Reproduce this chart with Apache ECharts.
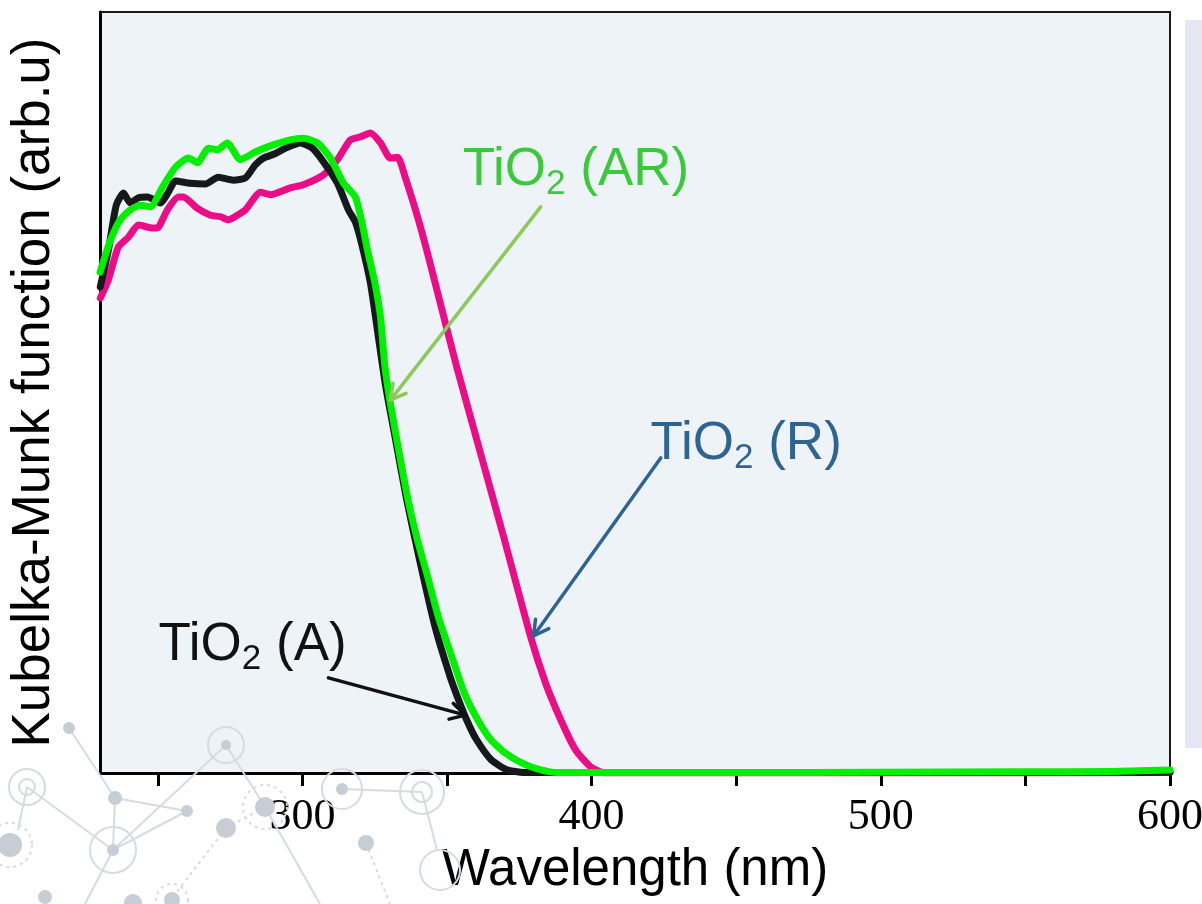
<!DOCTYPE html>
<html>
<head>
<meta charset="utf-8">
<script src="https://cdn.jsdelivr.net/npm/echarts@6/dist/echarts.min.js"></script>
<style>
  html, body { margin: 0; padding: 0; background: #ffffff; }
  #chart { width: 1202px; height: 904px; }
</style>
</head>
<body>
<div id="chart"></div>
<script>
// TiO2 (A) - black
const aWave = [230.1, 232.9, 235.6, 238.1, 240.5, 243.3, 246.4, 250.9, 253.6, 256.1, 261.2, 266.4, 270.9, 276.1, 280.3, 283.7, 286.5, 290.7, 294.1, 299.3, 303.5, 307.3, 312.1, 315.9, 318.3, 320.5, 323.5, 326, 328.7, 332.2, 336, 340.8, 346, 351.2, 354, 357, 360, 365.1, 370.2, 375.4, 380, 400, 450, 500, 550, 600];
const aKm = [63.9, 68.7, 74.6, 76.2, 74.9, 75.6, 75.7, 74.9, 76.3, 77.8, 77.5, 77.4, 78.3, 77.9, 78.2, 79.9, 80.8, 81.4, 82.1, 82.8, 82.1, 80.3, 77.5, 74.0, 72.4, 69.5, 64.4, 58, 51, 43.8, 36, 27.5, 19, 12.5, 9.6, 6.8, 4.5, 1.8, 0.5, 0.1, 0.05, 0.05, 0.05, 0.05, 0.05, 0.1];

// TiO2 (AR) - green
const arWave = [230, 233.6, 237.0, 240.5, 243.9, 247.4, 251.6, 256.1, 260.6, 263.7, 267.5, 270.6, 274.0, 278.5, 283.7, 289.6, 295.8, 300.3, 305.2, 309.7, 314.2, 318.3, 320.5, 322.5, 325, 327, 328.5, 330.4, 333.5, 336.3, 339.5, 343.3, 347, 351.2, 356, 360.6, 365.1, 370.2, 376.5, 382.4, 388.2, 400, 450, 500, 550, 580, 600];
const arKm = [65.8, 70.0, 72.7, 74.0, 74.6, 74.4, 77.0, 79.6, 80.8, 80.2, 82.1, 81.9, 82.8, 80.6, 81.6, 82.5, 83.2, 83.4, 82.8, 80.8, 77.5, 75.7, 72.5, 68.7, 64.5, 59.9, 53.5, 48.6, 42, 36.3, 31, 25.8, 20.5, 15.8, 10.5, 7.0, 4.4, 2.6, 1.2, 0.4, 0.05, 0.05, 0.05, 0.1, 0.15, 0.2, 0.4];

// TiO2 (R) - pink
const rWave = [230.1, 232.9, 236.3, 239.8, 243.3, 248.4, 250.2, 253.3, 257.1, 258.8, 263.7, 268.2, 271.6, 274.4, 277.5, 280.3, 285.5, 288.9, 295.8, 300.3, 307.3, 312.1, 316.6, 320.1, 323.5, 327.0, 330.4, 332.9, 335.6, 340.1, 343.6, 348.5, 353.6, 361.6, 369.6, 378.9, 384.1, 389.3, 394.5, 399.7, 404.8, 450, 500, 550, 600];
const rKm = [62.4, 64.8, 69.1, 70.4, 72.0, 71.6, 71.7, 74.0, 75.7, 75.7, 74.2, 73.3, 73.1, 72.7, 73.3, 74.0, 76.3, 76.0, 76.9, 77.3, 78.6, 80.6, 83.2, 83.6, 84.1, 82.8, 80.8, 80.9, 78.2, 72.7, 67.8, 60.5, 53.0, 42.0, 31.0, 17.9, 11.8, 7.0, 3.0, 0.8, 0, 0, 0, 0, 0.1];

const tickValues = [250, 300, 350, 400, 450, 500, 550, 600];
const labelValues = [300, 400, 500, 600];

// annotations in data coordinates: text top-left, arrow tail, arrow tip
const notes = [
  { name: 'AR', color: '#3cc83c', arrow: '#8cc85a', text: [355.4, 83.2], tail: [382.4, 74.4], tip: [330.4, 49.0] },
  { name: 'R', color: '#2e6491', arrow: '#2e6491', text: [420.4, 47.2], tail: [423.9, 41.4], tip: [379.9, 18.0] },
  { name: 'A', color: '#111111', arrow: '#111111', text: [250.2, 20.8], tail: [309.0, 12.5], tip: [356.4, 7.6] }
];

const toPairs = (xs, ys) => xs.map((x, i) => [x, ys[i]]);

const chart = echarts.init(document.getElementById('chart'));

const lineSeries = (name, xs, ys, color) => ({
  name: name,
  type: 'line',
  data: toPairs(xs, ys),
  showSymbol: false,
  smooth: 0.2,
  lineStyle: { color: color, width: 7, cap: 'round', join: 'round' },
  animation: false
});

chart.setOption({
  animation: false,
  grid: {
    left: 100, right: 32, top: 12, bottom: 131,
    outerBoundsMode: 'none',
    containLabel: false,
    show: true,
    backgroundColor: '#eef3f8',
    borderColor: '#1a1a1a',
    borderWidth: 2
  },
  xAxis: {
    type: 'value',
    min: 230,
    max: 600,
    name: 'Wavelength (nm)',
    nameLocation: 'middle',
    nameGap: 72,
    nameTextStyle: { fontFamily: 'Liberation Sans', fontSize: 51, color: '#000' },
    axisLine: { show: true, onZero: false, lineStyle: { color: '#000', width: 3 } },
    axisTick: { show: true, customValues: tickValues, length: 13, lineStyle: { color: '#000', width: 3 } },
    axisLabel: { customValues: labelValues, fontFamily: 'Liberation Serif', fontSize: 44, color: '#000', margin: 22 },
    splitLine: { show: false }
  },
  yAxis: {
    type: 'value',
    min: 0,
    max: 100,
    name: 'Kubelka-Munk function (arb.u)',
    nameLocation: 'middle',
    nameGap: 39,
    nameTextStyle: { fontFamily: 'Liberation Sans', fontSize: 53, color: '#000' },
    axisLine: { show: true, onZero: false, lineStyle: { color: '#000', width: 3 } },
    axisTick: { show: false },
    axisLabel: { show: false },
    splitLine: { show: false }
  },
  series: [
    lineSeries('TiO2 (R)', rWave, rKm, '#ec0c88'),
    lineSeries('TiO2 (A)', aWave, aKm, '#15191c'),
    lineSeries('TiO2 (AR)', arWave, arKm, '#00f000')
  ]
});

// background network decoration and right-hand panel
const deco = [];
const grey = '#c6cdd4';
const faint = '#d6dbe0';
const ln = (x1, y1, x2, y2, dash) => deco.push({ type: 'line', z: 1, silent: true,
  shape: { x1, y1, x2, y2 }, style: { stroke: faint, lineWidth: 2, lineDash: dash ? [3, 4] : null } });
const dot = (cx, cy, r) => deco.push({ type: 'circle', z: 1, silent: true, shape: { cx, cy, r }, style: { fill: grey } });
const ring = (cx, cy, r, dash) => deco.push({ type: 'circle', z: 1, silent: true, shape: { cx, cy, r },
  style: { fill: 'none', stroke: faint, lineWidth: 2, lineDash: dash ? [3, 4] : null } });

ln(69, 728, 115, 798); ln(27, 787, 113, 850); ln(115, 798, 187, 811); ln(115, 798, 113, 850);
ln(113, 850, 187, 811); ln(113, 850, 226, 745); ln(226, 745, 265, 807); ln(265, 807, 226, 828, true);
ln(226, 828, 173, 897, true); ln(342, 789, 422, 792); ln(422, 792, 437, 850); ln(366, 843, 390, 904, true);
ln(265, 807, 320, 904); ln(113, 850, 85, 904); ln(27, 787, 18, 830);
dot(69, 728, 6); ring(27, 787, 18); ring(27, 787, 8); dot(115, 798, 7); dot(187, 811, 6);
ring(113, 850, 23); dot(113, 850, 6); dot(10, 845, 12); ring(10, 845, 22, true);
ring(226, 745, 18); dot(226, 745, 5); dot(265, 807, 10); ring(265, 807, 22, true); dot(226, 828, 10);
ring(342, 789, 20); dot(342, 789, 6); ring(422, 792, 22); ring(422, 792, 10); dot(366, 843, 8);
dot(45, 897, 7); dot(133, 903, 9); dot(172, 900, 8); ring(172, 900, 16, true); ring(440, 870, 20);
deco.push({ type: 'rect', z: 1, silent: true, shape: { x: 1185, y: 20, width: 17, height: 728 }, style: { fill: '#e6e6f5' } });

// annotation texts and arrows placed from data coordinates
const notesG = [];
notes.forEach(n => {
  const t = chart.convertToPixel({ gridIndex: 0 }, n.text);
  const p0 = chart.convertToPixel({ gridIndex: 0 }, n.tail);
  const p1 = chart.convertToPixel({ gridIndex: 0 }, n.tip);
  notesG.push({
    type: 'text', z: 10, x: t[0], y: t[1],
    style: {
      text: '{m|TiO}{s|2}{m| (' + n.name + ')}',
      align: 'left', verticalAlign: 'top',
      rich: {
        m: { fontFamily: 'Liberation Sans', fontSize: 53, lineHeight: 62, verticalAlign: 'middle', fill: n.color },
        s: { fontFamily: 'Liberation Sans', fontSize: 35, lineHeight: 30, verticalAlign: 'bottom', fill: n.color }
      }
    }
  });
  const ang = Math.atan2(p0[1] - p1[1], p0[0] - p1[0]);
  const L = 17, spread = 0.5;
  notesG.push({ type: 'line', z: 10, shape: { x1: p0[0], y1: p0[1], x2: p1[0], y2: p1[1] },
    style: { stroke: n.arrow, lineWidth: 3.5, lineCap: 'round' } });
  notesG.push({ type: 'polyline', z: 10, shape: { points: [
      [p1[0] + L * Math.cos(ang + spread), p1[1] + L * Math.sin(ang + spread)],
      [p1[0], p1[1]],
      [p1[0] + L * Math.cos(ang - spread), p1[1] + L * Math.sin(ang - spread)]
    ] }, style: { stroke: n.arrow, lineWidth: 3.5, lineCap: 'round', lineJoin: 'round', fill: null } });
});

chart.setOption({ graphic: { elements: deco.concat(notesG) } });
</script>
</body>
</html>
